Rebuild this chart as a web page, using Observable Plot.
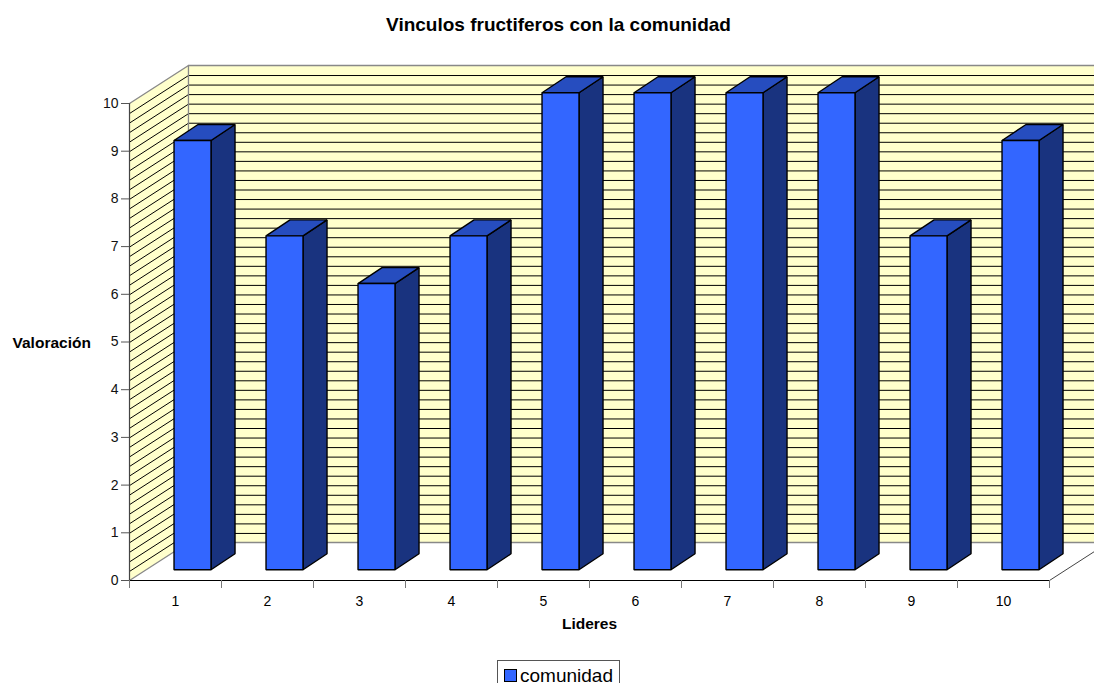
<!DOCTYPE html>
<html>
<head>
<meta charset="utf-8">
<script src="https://cdn.jsdelivr.net/npm/d3@7"></script>
<script src="https://cdn.jsdelivr.net/npm/@observablehq/plot@0.6"></script>
<style>
html,body{margin:0;padding:0;background:#fff;width:1094px;height:683px;overflow:hidden;font-family:"Liberation Sans",Arial,sans-serif;color:#000}
#title{height:45px;line-height:50px;text-align:center;font-weight:bold;font-size:19px;width:1117px;white-space:nowrap}
#chart{height:605px}
#chart svg{display:block}
#legend{position:absolute;left:497px;top:660px;width:121px;height:30px;border:1px solid #555;box-sizing:content-box;font-size:19px;line-height:30px}
#legend i{position:absolute;left:6px;top:8px;width:11px;height:11px;background:#3366ff;border:1px solid #000}
#legend span{position:absolute;left:22px;line-height:22px;top:4px}
</style>
</head>
<body>
<div id="title">Vinculos fructiferos con la comunidad</div>
<div id="chart"></div>
<div id="legend"><i></i><span>comunidad</span></div>
<script>
const categories = [1, 2, 3, 4, 5, 6, 7, 8, 9, 10];
const comunidad = [9, 7, 6, 7, 10, 10, 10, 10, 7, 9];
const yTicks = [0, 1, 2, 3, 4, 5, 6, 7, 8, 9, 10];
const gridStep = 0.2;

const wallDx = 0.641, wallDy = 0.797;       // depth of the chart box
const barDx = 0.261, barDy = 0.335;         // depth of a bar
const barInset = 0.484, barWidth = 0.402, barLift = 0.225;
const n = categories.length, yMax = yTicks[yTicks.length - 1];
const rows = d3.range(0, Math.round(yMax / gridStep) + 1).map(k => k * gridStep);

const poly = (pts, o) => Plot.line(pts, {x: d => d[0], y: d => d[1], curve: "linear-closed", ...o});
const seg = (pts, stroke, strokeWidth = 1, o = {}) => Plot.line(pts, {x: d => d[0], y: d => d[1], stroke, strokeWidth, ...o});

const wallGrey = "#888888";
const marks = [
  // back wall and left wall
  poly([[wallDx, wallDy], [n + wallDx, wallDy], [n + wallDx, yMax + wallDy], [wallDx, yMax + wallDy]], {fill: "#ffffcc"}),
  poly([[0, 0], [wallDx, wallDy], [wallDx, yMax + wallDy], [0, yMax]], {fill: "#ffffcc"}),
  // grid lines on both walls
  ...rows.slice(1, -1).map(v => seg([[wallDx, v + wallDy], [n + wallDx, v + wallDy]], "#000", 1, {dy: 0.5})),
  ...rows.slice(1, -1).map(v => seg([[0, v], [wallDx, v + wallDy]], "#000", 1, {dy: 0.5})),
  // wall outlines
  seg([[0, yMax], [wallDx, yMax + wallDy], [n + wallDx, yMax + wallDy]], wallGrey, 1.3),
  seg([[wallDx, yMax + wallDy], [wallDx, wallDy]], wallGrey, 1.3),
  seg([[0, 0], [wallDx, wallDy], [n + wallDx, wallDy]], wallGrey, 1.3),
  seg([[n, 0], [n + wallDx, wallDy]], "#444", 1),
  // bars
  ...comunidad.flatMap((v, i) => {
    const x0 = i + barInset, x1 = x0 + barWidth, y0 = barLift, y1 = v + barLift;
    const common = {stroke: "#000", strokeWidth: 1.4, strokeLinejoin: "miter"};
    return [
      poly([[x1, y0], [x1 + barDx, y0 + barDy], [x1 + barDx, y1 + barDy], [x1, y1]], {fill: "#19337f", ...common}),
      poly([[x0, y1], [x1, y1], [x1 + barDx, y1 + barDy], [x0 + barDx, y1 + barDy]], {fill: "#264dbf", ...common}),
      poly([[x0, y0], [x1, y0], [x1, y1], [x0, y1]], {fill: "#3366ff", ...common})
    ];
  }),
  // axes
  seg([[0, 0], [n, 0]], "#000", 1.2),
  seg([[0, 0], [0, yMax]], "#444", 1.2),
  Plot.axisY({ticks: yTicks, tickFormat: d => d, tickSize: 8, tickPadding: 3, label: null, stroke: "#555", color: "#111", fontSize: 14}),
  Plot.axisX({ticks: d3.range(0, n + 1), tickSize: 8, tickFormat: () => "", label: null, stroke: "#777"}),
  Plot.axisX(categories.map(c => c - 0.5), {tickSize: 0, tickPadding: 16, tickFormat: d => d + 0.5, label: null, fontSize: 14}),
  Plot.text(["Lideres"], {x: () => n / 2, frameAnchor: "bottom", dy: 48, fontWeight: "bold", fontSize: 15.5}),
  Plot.text(["Valoración"], {frameAnchor: "left", dx: -117, dy: 1, textAnchor: "start", fontWeight: "bold", fontSize: 15.5})
];

const plot = Plot.plot({
  width: 1094,
  height: 605,
  marginLeft: 129, marginRight: 45, marginTop: 58, marginBottom: 70,
  x: {domain: [0, n], range: [129, 1049]},
  y: {domain: [0, yMax], range: [535, 58]},
  style: {fontFamily: "'Liberation Sans', Arial, sans-serif", background: "#fff", color: "#000"},
  marks
});
document.getElementById("chart").append(plot);
</script>
</body>
</html>
